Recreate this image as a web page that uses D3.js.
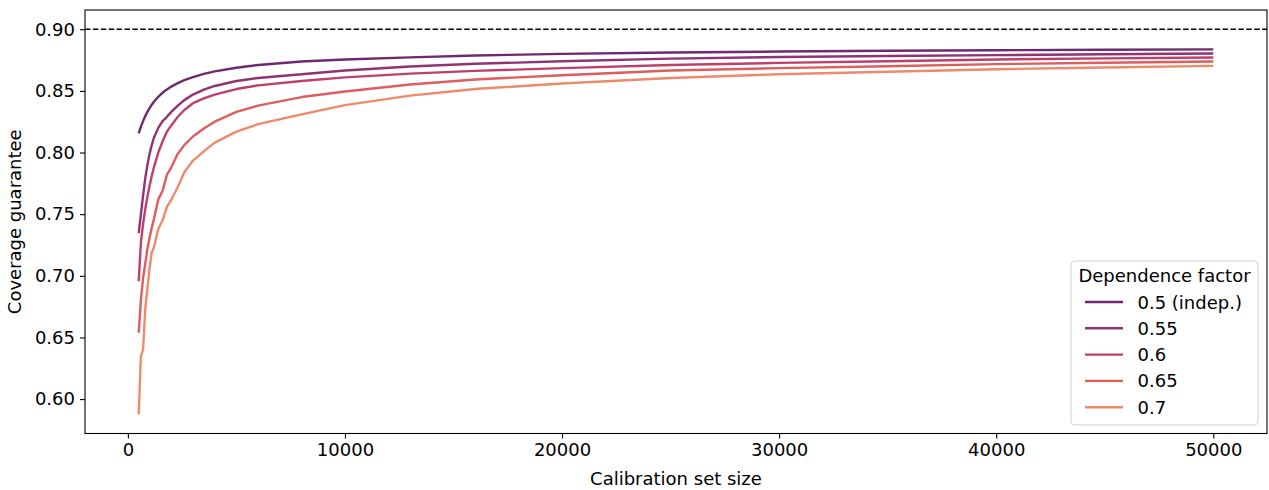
<!DOCTYPE html>
<html lang="en">
    <head>
        <meta charset="utf-8">
        <title>Coverage guarantee</title>
        <script src="https://cdn.jsdelivr.net/npm/d3@7"></script>
        <style>
            body { margin: 0; background: #fff; }
            text { font-family: "DejaVu Sans", sans-serif; fill: #000; }
        </style>
    </head>
    <body>
        <script>
            var w = 1269;
            var h = 490;
            var margin = {left: 85, right: 2, top: 10, bottom: 56.5};
            var fontSize = "18px";

            var sizes = [500, 600, 700, 800, 900, 1000, 1100, 1200, 1400, 1600, 1800, 2000, 2300, 2600, 3000,
                         3500, 4000, 5000, 6000, 8000, 10000, 13000, 16000, 20000, 25000, 30000, 35000, 40000, 45000, 50000];
            var cov050 = [0.8156, 0.8210, 0.8255, 0.8295, 0.8330, 0.8360, 0.8388, 0.8412, 0.8452, 0.8485, 0.8512, 0.8535, 0.8563, 0.8587, 0.8612,
                          0.8638, 0.8658, 0.8688, 0.8710, 0.8738, 0.8755, 0.8772, 0.8787, 0.8800, 0.8811, 0.8819, 0.8825, 0.8830, 0.8834, 0.8837];
            var cov055 = [0.7347, 0.7500, 0.7650, 0.7790, 0.7900, 0.7990, 0.8060, 0.8120, 0.8200, 0.8255, 0.8290, 0.8330, 0.8380, 0.8425, 0.8470,
                          0.8510, 0.8540, 0.8580, 0.8605, 0.8635, 0.8665, 0.8698, 0.8720, 0.8740, 0.8762, 0.8775, 0.8783, 0.8790, 0.8797, 0.8803];
            var cov060 = [0.6956, 0.7270, 0.7420, 0.7540, 0.7640, 0.7730, 0.7810, 0.7880, 0.8000, 0.8090, 0.8170, 0.8220, 0.8290, 0.8345, 0.8400,
                          0.8440, 0.8470, 0.8515, 0.8545, 0.8580, 0.8610, 0.8640, 0.8662, 0.8685, 0.8710, 0.8727, 0.8740, 0.8755, 0.8764, 0.8771];
            var cov065 = [0.6538, 0.6807, 0.6980, 0.7100, 0.7220, 0.7310, 0.7390, 0.7460, 0.7620, 0.7690, 0.7820, 0.7880, 0.7990, 0.8060, 0.8130,
                          0.8195, 0.8250, 0.8330, 0.8380, 0.8450, 0.8495, 0.8552, 0.8592, 0.8627, 0.8665, 0.8685, 0.8700, 0.8717, 0.8728, 0.8739];
            var cov070 = [0.5877, 0.6349, 0.6400, 0.6730, 0.6900, 0.7060, 0.7190, 0.7230, 0.7380, 0.7450, 0.7560, 0.7617, 0.7720, 0.7840, 0.7935,
                          0.8010, 0.8080, 0.8170, 0.8230, 0.8310, 0.8385, 0.8462, 0.8515, 0.8560, 0.8605, 0.8635, 0.8655, 0.8676, 0.8690, 0.8703];

            var seriesNames = ["0.5 (indep.)", "0.55", "0.6", "0.65", "0.7"];
            var seriesValues = [cov050, cov055, cov060, cov065, cov070];
            var colors = ["#6e2a6e", "#8f3373", "#bf3f6b", "#de5d5d", "#ed8a6b"];
            var xTicks = [0, 10000, 20000, 30000, 40000, 50000];
            var yTicks = [0.60, 0.65, 0.70, 0.75, 0.80, 0.85, 0.90];
            var target = 0.90;

            var svg = d3.select("body").append("svg").attr("width", w).attr("height", h);

            // matplotlib style 5% margins around the data
            var xspan = 50000 - 500, yspan = target - d3.min(cov070);
            var xscale = d3.scaleLinear().domain([500 - 0.05 * xspan, 50000 + 0.05 * xspan])
                .range([margin.left, w - margin.right]);
            var yscale = d3.scaleLinear().domain([d3.min(cov070) - 0.05 * yspan, target + 0.05 * yspan])
                .range([h - margin.bottom, margin.top]);

            var xAxis = svg.append("g").attr("transform", "translate(0," + (h - margin.bottom) + ")")
                .call(d3.axisBottom(xscale).tickValues(xTicks).tickFormat(d3.format("d")).tickSize(5).tickPadding(5));
            var yAxis = svg.append("g").attr("transform", "translate(" + margin.left + ",0)")
                .call(d3.axisLeft(yscale).tickValues(yTicks).tickFormat(d3.format(".2f")).tickSize(5).tickPadding(5));
            [xAxis, yAxis].forEach(function (a) {
                a.select(".domain").remove();
                a.selectAll("line").attr("stroke", "#000").attr("stroke-width", 1.1);
                a.selectAll("text").attr("font-size", fontSize).attr("font-family", "DejaVu Sans, sans-serif");
            });

            // reference line at nominal coverage
            svg.append("line")
                .attr("x1", margin.left).attr("x2", w - margin.right)
                .attr("y1", yscale(target)).attr("y2", yscale(target))
                .attr("stroke", "#000").attr("stroke-width", 1.3).attr("stroke-dasharray", "5.5,2.4");

            var line = d3.line()
                .x(function (d, i) { return xscale(sizes[i]); })
                .y(function (d) { return yscale(d); });

            // lightest first so the darker curves sit on top
            svg.selectAll("path.curve").data(seriesValues.slice().reverse()).enter().append("path")
                .attr("class", "curve")
                .attr("d", line)
                .attr("fill", "none")
                .attr("stroke", function (d, i) { return colors[colors.length - 1 - i]; })
                .attr("stroke-width", 2.4)
                .attr("stroke-linejoin", "round");

            // frame
            svg.append("rect")
                .attr("x", margin.left).attr("y", margin.top)
                .attr("width", w - margin.left - margin.right).attr("height", h - margin.top - margin.bottom)
                .attr("fill", "none").attr("stroke", "#000").attr("stroke-width", 1.1);

            svg.append("text").text("Calibration set size")
                .attr("x", (margin.left + w - margin.right) / 2).attr("y", 485)
                .attr("text-anchor", "middle").attr("font-size", fontSize);
            svg.append("text").text("Coverage guarantee")
                .attr("transform", "translate(21," + (margin.top + h - margin.bottom) / 2 + ") rotate(-90)")
                .attr("text-anchor", "middle").attr("font-size", fontSize);

            // legend
            var lg = svg.append("g").attr("transform", "translate(1071,261)");
            lg.append("rect").attr("width", 187).attr("height", 164).attr("rx", 4)
                .attr("fill", "#fff").attr("fill-opacity", 0.8).attr("stroke", "#d0d0d0").attr("stroke-width", 1);
            lg.append("text").text("Dependence factor").attr("x", 93.5).attr("y", 20.5)
                .attr("text-anchor", "middle").attr("font-size", fontSize);
            var items = lg.selectAll("g.item").data(seriesNames).enter().append("g")
                .attr("class", "item")
                .attr("transform", function (d, i) { return "translate(0," + (41 + i * 26.3) + ")"; });
            items.append("line").attr("x1", 14).attr("x2", 52).attr("y1", 0).attr("y2", 0)
                .attr("stroke", function (d, i) { return colors[i]; }).attr("stroke-width", 2.4);
            items.append("text").text(function (d) { return d; })
                .attr("x", 66.5).attr("y", 6.5).attr("font-size", fontSize);
        </script>
    </body>
</html>
